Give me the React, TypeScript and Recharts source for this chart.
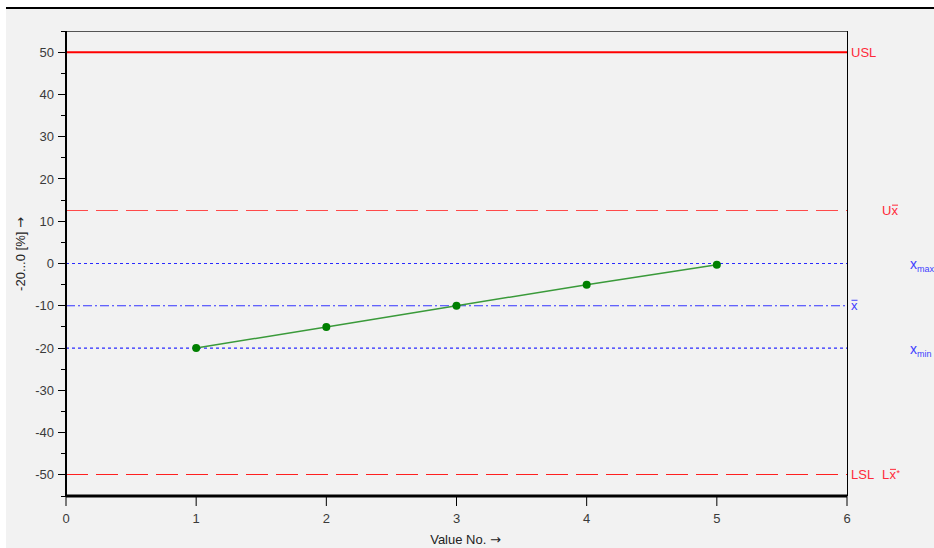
import React from "react";
import { ComposedChart, Line, XAxis, YAxis, ReferenceLine } from "recharts";

// measured values
const valueNo = [1, 2, 3, 4, 5];
const values = [-20, -15, -10, -5, -0.3];

const xTicks = [0, 1, 2, 3, 4, 5, 6];
const yTicks = [-55, -50, -45, -40, -35, -30, -25, -20, -15, -10, -5, 0, 5, 10, 15, 20, 25, 30, 35, 40, 45, 50, 55];

const USL = 50;
const UXBAR = 12.5;
const XMAX = 0;
const XBAR = -10;
const XMIN = -20;
const LSL = -50;

const rows = valueNo.map((n, i) => ({ n, v: values[i] }));

const FONT = "'Liberation Sans', Arial, sans-serif";
const ARROW_FONT = "'DejaVu Sans', sans-serif";
const RED = "#ff2a3a";
const BLUE = "#4040ff";

function YTick(props: any) {
  const { x, y, payload } = props;
  const v = payload.value;
  const major = v % 10 === 0;
  return (
    <g>
      <line x1={x - (major ? 8 : 5)} x2={x} y1={y} y2={y} stroke="#000" strokeWidth={1} shapeRendering="crispEdges" />
      {major && (
        <text x={x - 12} y={y} dy="0.35em" textAnchor="end" fontSize={13} fill="#3a3a3a" fontFamily={FONT}>
          {v}
        </text>
      )}
    </g>
  );
}

function YTitle() {
  const x = 14;
  const y = 245;
  return (
    <text x={x} y={y} transform={`rotate(-90 ${x} ${y})`} textAnchor="middle" dy="0.35em" fontSize={13} fill="#222" fontFamily={FONT}>
      -20...0 [%] <tspan fontFamily={ARROW_FONT}>{"\u2192"}</tspan>
    </text>
  );
}

function XTitle(props: any) {
  const vb = props.viewBox || {};
  const x = (vb.x ?? 0) + (vb.width ?? 0) / 2 + 9;
  const y = (vb.y ?? 0) + (vb.height ?? 0) - 4;
  return (
    <text x={x} y={y} textAnchor="middle" fontSize={13} fill="#222" fontFamily={FONT}>
      Value No. <tspan fontFamily={ARROW_FONT}>{"\u2192"}</tspan>
    </text>
  );
}

// "x" with a bar drawn above it
function XBarGlyph({ x, y, color }: { x: number; y: number; color: string }) {
  return (
    <g>
      <text x={x} y={y} dy="0.35em" fontSize={13} fill={color} fontFamily={FONT}>
        x
      </text>
      <line x1={x + 0.5} x2={x + 6.5} y1={y - 5.5} y2={y - 5.5} stroke={color} strokeWidth={1} />
    </g>
  );
}

// labels drawn right of the plot for the reference lines
function LimitLabel(props: any) {
  const { viewBox, kind } = props;
  const vb = viewBox || {};
  const r = (vb.x ?? 0) + (vb.width ?? 0);
  const y = vb.y ?? 0;
  const t = (x: number, s: string, color: string) => (
    <text x={x} y={y} dy="0.35em" fontSize={13} fill={color} fontFamily={FONT}>
      {s}
    </text>
  );
  if (kind === "usl") return t(r + 4, "USL", RED);
  if (kind === "ux")
    return (
      <g>
        {t(r + 35, "U", RED)}
        <XBarGlyph x={r + 44.5} y={y} color={RED} />
      </g>
    );
  if (kind === "xmax" || kind === "xmin")
    return (
      <text x={r + 63} y={y} dy="0.35em" fill={BLUE} fontFamily={FONT}>
        <tspan fontSize={14}>x</tspan>
        <tspan fontSize={9} dy={3}>
          {kind === "xmax" ? "max" : "min"}
        </tspan>
      </text>
    );
  if (kind === "xbar") return <XBarGlyph x={r + 4} y={y} color={BLUE} />;
  if (kind === "lsl")
    return (
      <g>
        {t(r + 4, "LSL", RED)}
        {t(r + 35, "L", RED)}
        <XBarGlyph x={r + 42.5} y={y} color={RED} />
        <text x={r + 49.5} y={y + 1} fontSize={9} fill={RED} fontFamily={FONT}>
          *
        </text>
      </g>
    );
  return null;
}

export default function App() {
  return (
    <div
      style={{
        position: "absolute",
        left: 6,
        top: 7,
        width: 928,
        height: 539,
        background: "#f2f2f2",
        borderTop: "2px solid #000",
      }}
    >
      <ComposedChart width={928} height={539} data={rows} margin={{ top: 22, right: 87, bottom: 0, left: 0 }}>
        <XAxis
          dataKey="n"
          type="number"
          domain={[0, 6]}
          ticks={xTicks}
          axisLine={{ stroke: "#000", strokeWidth: 3 }}
          tickLine={{ stroke: "#000" }}
          tickSize={10}
          tickMargin={8}
          tick={{ fontSize: 13, fill: "#3a3a3a", fontFamily: FONT }}
          height={52}
          label={<XTitle />}
        />
        <YAxis
          type="number"
          domain={[-55, 55]}
          ticks={yTicks}
          interval={0}
          width={60}
          axisLine={{ stroke: "#000", strokeWidth: 2 }}
          tickLine={false}
          tickSize={0}
          tickMargin={0}
          tick={<YTick />}
          label={<YTitle />}
        />
        <ReferenceLine y={55} stroke="#555" strokeWidth={1} shapeRendering="crispEdges" />
        <ReferenceLine x={6} stroke="#000" strokeWidth={1} shapeRendering="crispEdges" />
        <ReferenceLine y={USL} stroke="#ff0000" strokeWidth={2} label={<LimitLabel kind="usl" />} />
        <ReferenceLine
          y={UXBAR}
          stroke="#ff4a4a"
          strokeWidth={1}
          strokeDasharray="22 8"
          shapeRendering="crispEdges"
          label={<LimitLabel kind="ux" />}
        />
        <ReferenceLine
          y={XMAX}
          stroke="#2a2aff"
          strokeWidth={1.2}
          strokeDasharray="3 3"
          label={<LimitLabel kind="xmax" />}
        />
        <ReferenceLine
          y={XBAR}
          stroke="#3535ff"
          strokeWidth={1.2}
          strokeDasharray="9 3 2 3"
          label={<LimitLabel kind="xbar" />}
        />
        <ReferenceLine
          y={XMIN}
          stroke="#2a2aff"
          strokeWidth={1.2}
          strokeDasharray="3 3"
          label={<LimitLabel kind="xmin" />}
        />
        <ReferenceLine
          y={LSL}
          stroke="#ff2020"
          strokeWidth={1}
          strokeDasharray="22 8"
          shapeRendering="crispEdges"
          label={<LimitLabel kind="lsl" />}
        />
        <Line
          dataKey="v"
          type="linear"
          stroke="#3a9a3a"
          strokeWidth={1.5}
          dot={{ r: 4, fill: "#008000", stroke: "#008000", strokeWidth: 0 }}
          isAnimationActive={false}
        />
      </ComposedChart>
    </div>
  );
}
